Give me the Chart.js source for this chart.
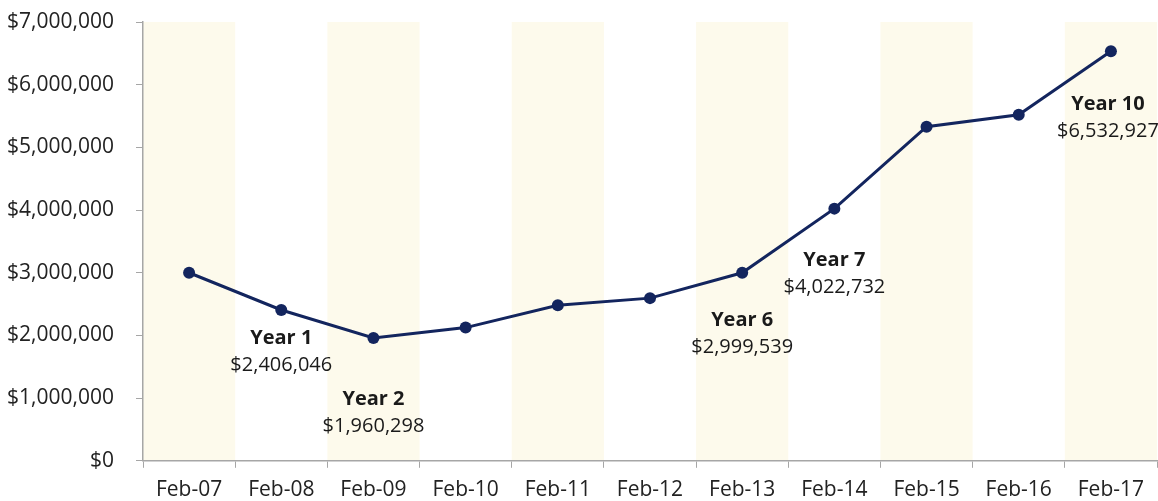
<!DOCTYPE html>
<html>
<head>
<meta charset="utf-8">
<script src="https://cdn.jsdelivr.net/npm/chart.js@4"></script>
<style>
    html, body { margin: 0; padding: 0; background: #fff; }
    #wrap { width: 1158px; height: 501px; }
</style>
</head>
<body>
<div id="wrap"><canvas id="chart" width="1158" height="501"></canvas></div>
<script>
const categories = ["Feb-07", "Feb-08", "Feb-09", "Feb-10", "Feb-11", "Feb-12",
    "Feb-13", "Feb-14", "Feb-15", "Feb-16", "Feb-17"];

const portfolioValues = [3000000, 2406046, 1960298, 2125000, 2480000, 2595000,
    2999539, 4022732, 5330000, 5520000, 6532927];

const callouts = [
    { index: 1, title: "Year 1" },
    { index: 2, title: "Year 2" },
    { index: 6, title: "Year 6" },
    { index: 7, title: "Year 7" },
    { index: 10, title: "Year 10" }
];

const yTicks = [0, 1000000, 2000000, 3000000, 4000000, 5000000, 6000000, 7000000];

const FONT = "'Open Sans', sans-serif";

function formatMoney(v) {
    return "$" + Math.round(v).toLocaleString("en-US");
}

// alternating cream bands behind every other category (drawn before the axes)
const bandPlugin = {
    id: "bands",
    beforeDraw(chart) {
        const { ctx, chartArea, scales } = chart;
        const x = scales.x;
        const half = (x.getPixelForValue(1) - x.getPixelForValue(0)) / 2;
        ctx.save();
        ctx.fillStyle = "#fdfaec";
        categories.forEach((c, i) => {
            if (i % 2 !== 0) return;
            const cx = x.getPixelForValue(i);
            ctx.fillRect(cx - half, chartArea.top, half * 2, chartArea.bottom - chartArea.top);
        });
        ctx.restore();
    }
};

// "Year N" callouts under selected points
const calloutOffsets = { 1: 28, 2: 61, 6: 48, 7: 52, 10: 53 };
const calloutPlugin = {
    id: "callouts",
    afterDatasetsDraw(chart) {
        const { ctx } = chart;
        const meta = chart.getDatasetMeta(0);
        ctx.save();
        ctx.textAlign = "center";
        ctx.textBaseline = "middle";
        ctx.fillStyle = "#1a1a1a";
        callouts.forEach(c => {
            const pt = meta.data[c.index];
            const dy = calloutOffsets[c.index];
            const px = c.index === 10 ? pt.x - 3 : pt.x;
            ctx.font = "bold 20px " + FONT;
            ctx.fillText(c.title, px, pt.y + dy);
            ctx.font = "20px " + FONT;
            ctx.fillText(formatMoney(portfolioValues[c.index]), px, pt.y + dy + 27);
        });
        ctx.restore();
    }
};

new Chart(document.getElementById("chart"), {
    type: "line",
    data: {
        labels: categories,
        datasets: [{
            data: portfolioValues,
            borderColor: "#13255e",
            backgroundColor: "#13255e",
            borderWidth: 3,
            pointRadius: 6,
            pointBackgroundColor: "#13255e",
            pointBorderWidth: 0,
            tension: 0
        }]
    },
    options: {
        responsive: false,
        animation: false,
        layout: { autoPadding: false, padding: { top: 22, right: 1, left: 0, bottom: -12 } },
        plugins: {
            legend: { display: false },
            tooltip: { enabled: false }
        },
        scales: {
            x: {
                offset: true,
                grid: {
                    offset: true,
                    drawOnChartArea: false,
                    drawTicks: true,
                    tickLength: 7,
                    color: "#a6a6a6"
                },
                border: { color: "#a6a6a6", width: 1.5 },
                ticks: {
                    color: "#222",
                    font: { family: FONT, size: 21 },
                    padding: 10,
                    maxRotation: 0,
                    autoSkip: false
                }
            },
            y: {
                min: 0,
                max: 7000000,
                afterFit(scale) {
                    scale.width = 143;
                    scale.paddingTop = 0;
                    scale.paddingBottom = 0;
                },
                afterBuildTicks(scale) {
                    scale.ticks = yTicks.map(v => ({ value: v }));
                },
                grid: {
                    drawOnChartArea: false,
                    drawTicks: true,
                    tickLength: 7,
                    color: "#a6a6a6"
                },
                border: { color: "#a6a6a6", width: 1.5 },
                ticks: {
                    color: "#222",
                    font: { family: FONT, size: 21 },
                    padding: 22,
                    callback: v => formatMoney(v)
                }
            }
        }
    },
    plugins: [bandPlugin, calloutPlugin]
});
</script>
</body>
</html>
